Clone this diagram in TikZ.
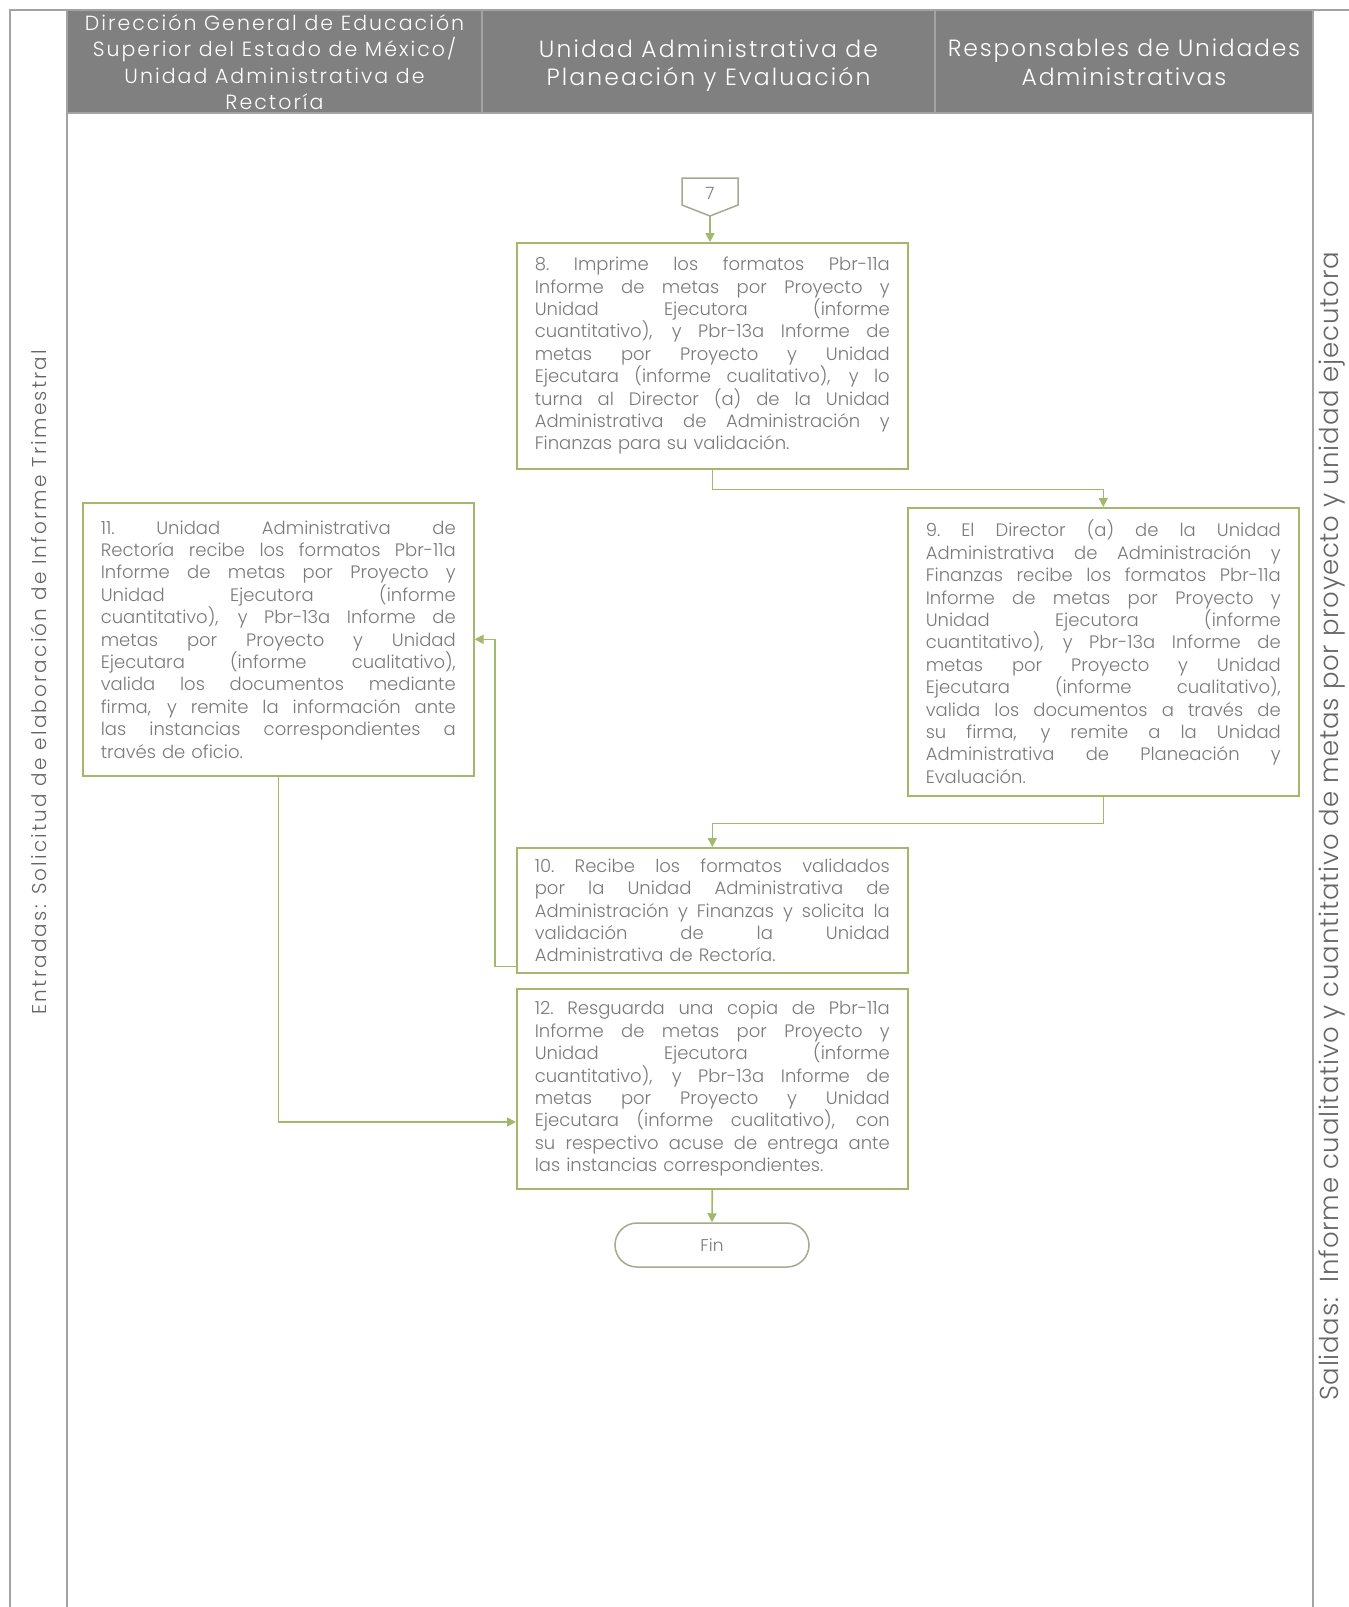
\documentclass[tikz,border=0pt]{standalone}
\usepackage{fontspec}
\setmainfont{Poppins}
\IfFontExistsTF{Poppins Light}{\newfontfamily\hdrfont{Poppins Light}}{\newfontfamily\hdrfont{Poppins}}
\usetikzlibrary{arrows.meta}
\definecolor{hdrgray}{HTML}{808080}
\definecolor{framegray}{HTML}{A3A3A3}
\definecolor{boxgreen}{HTML}{A2B86A}
\definecolor{txtgray}{HTML}{7A7A7A}
\definecolor{sidegray}{HTML}{666666}
\definecolor{termgray}{HTML}{A6AA8C}
\newcommand\jline[1]{\hbox to 355pt{\spaceskip=\fontdimen2\font plus 1fil\relax
  \xspaceskip=\spaceskip #1}\par}
\begin{document}
\begin{tikzpicture}[x=1pt,y=-1pt,
  frame/.style={draw=framegray, line width=2pt},
  hdrtext/.style={text=white, align=center, inner sep=0pt},
  sidetext/.style={text=sidegray, inner sep=0pt},
  stepbox/.style={draw=boxgreen, line width=1.6pt, fill=white, text=txtgray,
     font=\hdrfont\fontsize{18}{22.4}\selectfont, text width=355pt,
     inner sep=0pt, minimum width=391pt, anchor=north west},
  termbox/.style={draw=termgray, line width=1.5pt, fill=white, text=txtgray,
     font=\hdrfont\fontsize{17}{20}\selectfont},
  conn/.style={draw=boxgreen, line width=1.6pt, -{Triangle[length=9pt,width=9pt]}}
]
\useasboundingbox (0,0) rectangle (1349,1607);
\fill[white] (0,0) rectangle (1349,1607);

% header and frame
\fill[hdrgray] (67,10) rectangle (1313,113);
\draw[frame] (10,1607) -- (10,10) -- (1349,10);
\draw[frame] (67,10) -- (67,1607);
\draw[frame] (1313,10) -- (1313,1607);
\draw[frame] (67,113) -- (1313,113);
\draw[frame] (482,10) -- (482,113);
\draw[frame] (935,10) -- (935,113);

\node[hdrtext, font=\hdrfont\fontsize{20.5}{26.5}\selectfont\addfontfeature{LetterSpace=10}] (h1) at (274.5,62)
  {Dirección General de Educación\\Superior del Estado de México/\\Unidad Administrativa de\\Rectoría};
\node[hdrtext, font=\hdrfont\fontsize{23.5}{28.5}\selectfont\addfontfeature{LetterSpace=9}] (h2) at (708.5,65.5)
  {Unidad Administrativa de\\Planeación y Evaluación};
\node[hdrtext, font=\hdrfont\fontsize{23.5}{28.5}\selectfont\addfontfeature{LetterSpace=7.5}] (h3) at (1124,62.5)
  {Responsables de Unidades\\Administrativas};

% side texts
\node[sidetext, rotate=90, font=\hdrfont\fontsize{20}{24}\selectfont\addfontfeature{LetterSpace=11}] (entr) at (38.5,682)
  {Entradas: Solicitud de elaboración de Informe Trimestral};
\node[sidetext, rotate=90, anchor=east, font=\hdrfont\fontsize{26}{30}\selectfont\addfontfeature{LetterSpace=3}] (sal) at (1332,252)
  {Salidas:\ \ Informe cualitativo y cuantitativo de metas por proyecto y unidad ejecutora};

% off-page connector 7
\draw[draw=termgray, line width=1.5pt, fill=white] (682,178) -- (738,178) -- (738,205) -- (710,216) -- (682,205) -- cycle;
\node[text=txtgray, font=\hdrfont\fontsize{17}{20}\selectfont] (p7) at (710,193) {7};
\coordinate (p7tip) at (710,216);

% steps
\node[stepbox, minimum height=226pt] (b8) at (516,242) {%
\jline{8. Imprime los formatos Pbr-11a}
\jline{Informe de metas por Proyecto y}
\jline{Unidad Ejecutora (informe}
\jline{cuantitativo), y Pbr-13a Informe de}
\jline{metas por Proyecto y Unidad}
\jline{Ejecutara (informe cualitativo), y lo}
\jline{turna al Director (a) de la Unidad}
\jline{Administrativa de Administración y}
\hbox{Finanzas para su validación.}};

\node[stepbox, minimum height=288pt] (b9) at (907,507) {%
\jline{9. El Director (a) de la Unidad}
\jline{Administrativa de Administración y}
\jline{Finanzas recibe los formatos Pbr-11a}
\jline{Informe de metas por Proyecto y}
\jline{Unidad Ejecutora (informe}
\jline{cuantitativo), y Pbr-13a Informe de}
\jline{metas por Proyecto y Unidad}
\jline{Ejecutara (informe cualitativo),}
\jline{valida los documentos a través de}
\jline{su firma, y remite a la Unidad}
\jline{Administrativa de Planeación y}
\hbox{Evaluación.}};

\node[stepbox, minimum height=273pt] (b11) at (82,502) {%
\jline{11. Unidad Administrativa de}
\jline{Rectoría recibe los formatos Pbr-11a}
\jline{Informe de metas por Proyecto y}
\jline{Unidad Ejecutora (informe}
\jline{cuantitativo), y Pbr-13a Informe de}
\jline{metas por Proyecto y Unidad}
\jline{Ejecutara (informe cualitativo),}
\jline{valida los documentos mediante}
\jline{firma, y remite la información ante}
\jline{las instancias correspondientes a}
\hbox{través de oficio.}};

\node[stepbox, minimum height=125pt] (b10) at (516,847) {%
\jline{10. Recibe los formatos validados}
\jline{por la Unidad Administrativa de}
\jline{Administración y Finanzas y solicita la}
\jline{validación de la Unidad}
\hbox{Administrativa de Rectoría.}};

\node[stepbox, minimum height=200pt] (b12) at (516,988) {%
\jline{12. Resguarda una copia de Pbr-11a}
\jline{Informe de metas por Proyecto y}
\jline{Unidad Ejecutora (informe}
\jline{cuantitativo), y Pbr-13a Informe de}
\jline{metas por Proyecto y Unidad}
\jline{Ejecutara (informe cualitativo), con}
\jline{su respectivo acuse de entrega ante}
\hbox{las instancias correspondientes.}};

\node[termbox, rounded corners=22pt, minimum width=194pt, minimum height=44pt] (fin) at (712,1245) {Fin};

% connectors
\draw[conn] (p7tip) -- (p7tip |- b8.north);
\draw[conn] (b8.south) -- ++(0,20) -| (b9.north);
\draw[conn] (b9.south) -- ++(0,27) -| (b10.north);
\draw[conn] ([yshift=7pt]b10.south west) -- ++(-21,0) |- (b11.east);
\draw[conn] (b11.south) |- ([yshift=-134pt]b12.north west);
\draw[conn] (b12.south) -- (fin.north);
\end{tikzpicture}
\end{document}
